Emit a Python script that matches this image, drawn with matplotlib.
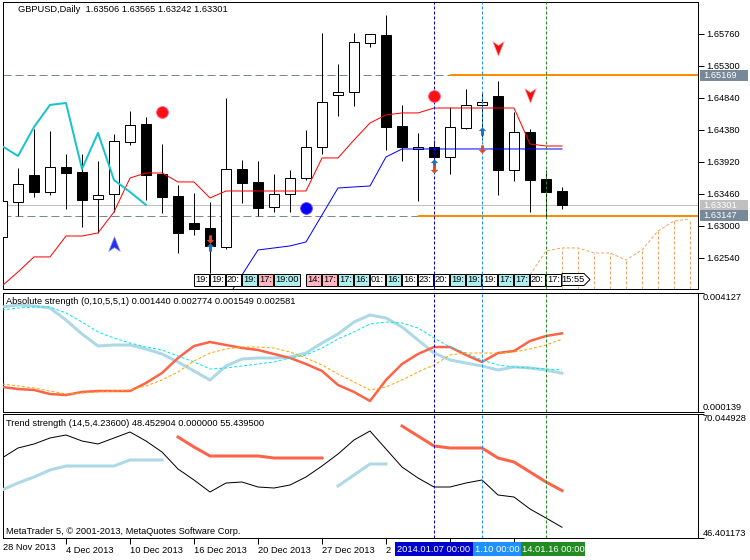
import matplotlib
matplotlib.use("Agg")
import matplotlib.pyplot as plt
import matplotlib.transforms as mtransforms
from matplotlib.patches import Rectangle, Polygon
from matplotlib.path import Path
import numpy as np

plt.rcParams["font.family"] = ["Liberation Sans", "DejaVu Sans"]

nan = np.nan

# ---- GBPUSD daily candles (bar 0 = 28 Nov 2013, bar 35 = 17 Jan 2014) ----
opens = [1.62842, 1.63345, 1.63733, 1.63489, 1.63848, 1.63776, 1.63388, 1.63460, 1.64208, 1.64466,
         1.63748, 1.63431, 1.63043, 1.62971, 1.62698, 1.63820, 1.63633, 1.63273, 1.63460, 1.63690,
         1.64136, 1.64883, 1.64926, 1.65631, 1.65746, 1.64438, 1.64107, 1.64136, 1.63992, 1.64409,
         1.64740, 1.64869, 1.63805, 1.64351, 1.63676, 1.63506]
highs = [1.63446, 1.63834, 1.64395, 1.64366, 1.64035, 1.64035, 1.63935, 1.64323, 1.64653, 1.64567,
         1.64179, 1.63590, 1.63475, 1.63345, 1.64840, 1.63949, 1.63935, 1.63748, 1.63805, 1.64380,
         1.65775, 1.65329, 1.65775, 1.65760, 1.66033, 1.64740, 1.64337, 1.64236, 1.64711, 1.64970,
         1.64926, 1.65085, 1.64639, 1.64395, 1.63805, 1.63565]
lows = [1.62799, 1.63144, 1.63417, 1.63446, 1.63245, 1.62986, 1.62900, 1.63201, 1.64165, 1.63374,
        1.63187, 1.62612, 1.62871, 1.62325, 1.62670, 1.63331, 1.63144, 1.63201, 1.63201, 1.63661,
        1.64035, 1.64581, 1.64725, 1.65573, 1.64093, 1.63935, 1.63360, 1.63949, 1.63748, 1.64395,
        1.64236, 1.63446, 1.63647, 1.63201, 1.63130, 1.63242]
closes = [1.63360, 1.63604, 1.63489, 1.63848, 1.63762, 1.63374, 1.63446, 1.64222, 1.64452, 1.63733,
          1.63417, 1.62900, 1.62957, 1.62713, 1.63820, 1.63618, 1.63259, 1.63460, 1.63690, 1.64136,
          1.64783, 1.64926, 1.65645, 1.65760, 1.64423, 1.64136, 1.64136, 1.63992, 1.64423, 1.64740,
          1.64783, 1.63805, 1.64351, 1.63661, 1.63489, 1.63301]

# channel lines on the price chart
red_line = [1.62138, 1.62339, 1.62555, 1.62555, 1.62856, 1.62856, 1.62900, 1.63201, 1.63690, 1.63762,
            1.63762, 1.63633, 1.63633, 1.63403, 1.63503, 1.63503, 1.63503, 1.63503, 1.63503, 1.63503,
            1.63978, 1.63978, 1.64236, 1.64481, 1.64596, 1.64625, 1.64625, 1.64696, 1.64696, 1.64696,
            1.64696, 1.64696, 1.64696, 1.64179, 1.64150, 1.64150]
blue_line = [nan, nan, nan, nan, nan, nan, nan, nan, nan, nan,
             nan, nan, nan, 1.61505, 1.61936, 1.62296, 1.62655, 1.62684, 1.62713, 1.62770,
             1.63158, 1.63546, 1.63561, 1.63575, 1.63992, 1.64107, 1.64107, 1.64107, 1.64107, 1.64107,
             1.64107, 1.64107, 1.64107, 1.64107, 1.64107, 1.64107]
cyan_line = [1.64150, 1.64006, 1.64423, 1.64740, 1.64768, 1.63820, 1.64337, 1.63661, 1.63489, 1.63302]

# forecast (dashed orange) bars 33..43
proj_bars = [33, 34, 35, 36, 37, 38, 39, 40, 41, 42, 43]
proj_vals = [1.62296, 1.62641, 1.62684, 1.62684, 1.62612, 1.62612, 1.62511, 1.62655, 1.62928, 1.63072, 1.63101]

# horizontal levels
level_hi = 1.65169
level_lo = 1.63147
bid = 1.63301
level_hi_start = 28
level_lo_start = 26

price_ticks = [1.65760, 1.65300, 1.64840, 1.64380, 1.63920, 1.63460, 1.63000, 1.62540]

# signal markers
dot_red_bars, dot_red_prices = [10, 27], [1.64639, 1.64869]
dot_blue_bars, dot_blue_prices = [19], [1.63259]
chev_up_bars, chev_up_prices = [7], [1.62741]
chev_dn_bars, chev_dn_prices = [31, 33], [1.65559, 1.64883]
arr_up_bars, arr_up_prices = [13, 27, 30], [1.62698, 1.63906, 1.64366]
arr_dn_bars, arr_dn_prices = [13, 27, 30], [1.62813, 1.63820, 1.64107]

# time boxes at the foot of the price chart
tb_bars = [12, 13, 14, 15, 16, 17, 19, 20, 21, 22, 23, 24, 25, 26, 27, 28, 29, 30, 31, 32, 33, 34, 35]
tb_text = ["19:", "19:", "20:", "19:", "17:", "19:00", "14:", "17:", "17:", "16:", "01:", "16:",
           "16:", "23:", "20:", "19:", "19:", "19:", "17:", "17:", "20:", "17:", "15:55"]
tb_kind = ["w", "w", "w", "c", "p", "c", "p", "p", "c", "c", "w", "c",
           "w", "w", "w", "c", "c", "w", "c", "c", "w", "w", "w"]

# Absolute strength (0,10,5,5,1)
abs_blue = [0.003658, 0.003725, 0.003691, 0.003624, 0.003222, 0.002753, 0.002351, 0.002384, 0.002384, 0.002250,
            0.002083, 0.001815, 0.001513, 0.001212, 0.001681, 0.001915, 0.001949, 0.001949, 0.001982, 0.002116,
            0.002451, 0.002753, 0.003155, 0.003390, 0.003289, 0.002988, 0.002552, 0.002116, 0.001882, 0.001781,
            0.001681, 0.001547, 0.001647, 0.001614, 0.001547, 0.001440]
abs_red = [0.000977, 0.000910, 0.000877, 0.000742, 0.000709, 0.000810, 0.000843, 0.000843, 0.000843, 0.001111,
           0.001446, 0.001949, 0.002351, 0.002485, 0.002384, 0.002284, 0.002217, 0.002083, 0.001949, 0.001748,
           0.001513, 0.001044, 0.000810, 0.000508, 0.001212, 0.001748, 0.002083, 0.002317, 0.002317, 0.002049,
           0.001815, 0.002116, 0.002183, 0.002519, 0.002686, 0.002774]
abs_cyan = [0.003557, 0.003624, 0.003658, 0.003658, 0.003457, 0.003155, 0.002820, 0.002619, 0.002451, 0.002317,
            0.002217, 0.002016, 0.001815, 0.001580, 0.001614, 0.001681, 0.001748, 0.001815, 0.001949, 0.002049,
            0.002284, 0.002586, 0.002820, 0.003088, 0.003155, 0.003122, 0.002954, 0.002619, 0.002317, 0.002116,
            0.001882, 0.001714, 0.001647, 0.001614, 0.001580, 0.001549]
abs_orange = [0.001078, 0.001011, 0.000944, 0.000843, 0.000742, 0.000776, 0.000810, 0.000843, 0.000877, 0.001011,
              0.001212, 0.001480, 0.001848, 0.002116, 0.002250, 0.002317, 0.002317, 0.002284, 0.002150, 0.001949,
              0.001714, 0.001413, 0.001145, 0.000877, 0.000977, 0.001212, 0.001480, 0.001714, 0.002049, 0.002116,
              0.002116, 0.002116, 0.002150, 0.002250, 0.002384, 0.002581]
abs_range = (0.000139, 0.004127)

# Trend strength (14,5,4.23600)
trend_black = [61.655, 63.562, 64.325, 65.469, 66.041, 64.897, 64.325, 65.469, 66.613, 64.897,
               62.799, 59.558, 57.460, 55.172, 56.888, 57.079, 56.125, 55.935, 56.507, 58.032,
               60.130, 62.418, 65.087, 66.803, 63.371, 59.939, 57.841, 56.125, 56.125, 56.888,
               57.460, 54.600, 54.219, 51.930, 50.214, 48.452904]
trend_blue = [55.553, 56.888, 58.032, 59.367, 60.130, 60.130, 60.130, 60.130, 61.274, 61.274,
              61.274, nan, nan, nan, nan, nan, nan, nan, nan, nan,
              nan, 56.316, 58.414, 60.511, 60.511, nan, nan, nan, nan, nan,
              nan, nan, nan, nan, nan, nan]
trend_red = [nan, nan, nan, nan, nan, nan, nan, nan, nan, nan,
             nan, 65.659, 63.753, 62.036, 62.036, 62.036, 62.036, 61.655, 61.655, 61.655,
             61.655, nan, nan, nan, nan, 67.757, 65.850, 63.943, 63.562, 63.562,
             63.562, 61.655, 60.892, 58.986, 57.079, 55.4395]
trend_range = (46.401173, 70.044928)

# date scale; the last three labels are hidden behind the vertical-line tags
date_bars = [4, 8, 12, 16, 20, 24, 28, 32]
date_labels = ["4 Dec 2013", "10 Dec 2013", "16 Dec 2013", "20 Dec 2013", "27 Dec 2013", "2", "", ""]

vline_bars = [27, 30, 34]
vline_labels = ["2014.01.07 00:00", "1.10 00:00", "14.01.16 00:00"]   # visible part of each tag
vline_colors = ["#0000cd", "#1e90ff", "#228b22"]

# ---- layout (pixel based) ----
W, H = 750, 560
PX = 0.72          # one pixel in points
FS = 6.7


def frame(x0, y0, x1, y1):
    return [x0 / W, 1 - y1 / H, (x1 - x0) / W, (y1 - y0) / H]


fig = plt.figure(figsize=(W / 100, H / 100), dpi=100)
ax0 = fig.add_axes(frame(2.5, 2, 697.5, 289))
ax1 = fig.add_axes(frame(2.5, 293, 697.5, 412))
ax2 = fig.add_axes(frame(2.5, 414, 697.5, 538))

x = np.arange(len(closes))
xlim = (0.5 / 16, 695.5 / 16)
for ax in (ax0, ax1, ax2):
    ax.set_xlim(*xlim)
    for sp in ax.spines.values():
        sp.set_linewidth(PX)
        sp.set_color("black")
    ax.yaxis.tick_right()
    ax.tick_params(axis="y", direction="out", length=4, width=PX, pad=2, labelsize=FS)
    for b, c in zip(vline_bars, vline_colors):
        ax.axvline(b, color=c, lw=PX, dashes=(3, 2), zorder=6)
ax0.set_xticks([])
ax1.set_xticks([])

# ---- price chart ----
ax0.set_ylim(1.62094, 1.66220)
ax0.axhline(bid, color="#c0c0c0", lw=PX, zorder=1)
ax0.axhline(level_hi, color="#778899", lw=PX, dashes=(8, 4), zorder=1)
ax0.axhline(level_lo, color="#778899", lw=PX, dashes=(8, 4), zorder=1)
ax0.hlines(level_hi, level_hi_start, xlim[1], color="#ff8c00", lw=2 * PX, zorder=2)
ax0.hlines(level_lo, level_lo_start, xlim[1], color="#ff8c00", lw=2 * PX, zorder=2)

o = np.array(opens)
c = np.array(closes)
ax0.vlines(x, lows, highs, color="black", lw=PX, zorder=3)
body_col = ["white" if cc >= oo else "black" for oo, cc in zip(o, c)]
ax0.bar(x, np.abs(c - o), width=0.65, bottom=np.minimum(o, c), color=body_col,
        edgecolor="black", linewidth=PX, zorder=4)

ax0.plot(x, red_line, color="#ff0000", lw=PX, zorder=5)
ax0.plot(x, blue_line, color="#0000ff", lw=PX, zorder=5)
ax0.plot(x[:len(cyan_line)], cyan_line, color="#18c4cc", lw=2 * PX, zorder=5)

ybot = ax0.get_ylim()[0]
ax0.plot(proj_bars, proj_vals, color="#f4a460", lw=PX, dashes=(3, 2), zorder=2)
ax0.vlines(proj_bars[1:], ybot, proj_vals[1:], color="#f4a460", lw=PX,
           linestyles=(0, (3, 2)), zorder=2)

chev_up = Path([(0, 1), (0.75, -0.9), (0, -0.4), (-0.75, -0.9), (0, 1)], closed=True)
chev_dn = Path([(0, -1), (0.75, 0.9), (0, 0.4), (-0.75, 0.9), (0, -1)], closed=True)
arr_up = Path([(0, 1), (0.9, 0.1), (0.35, 0.1), (0.35, -1), (-0.35, -1), (-0.35, 0.1),
               (-0.9, 0.1), (0, 1)], closed=True)
arr_dn = Path([(0, -1), (0.9, -0.1), (0.35, -0.1), (0.35, 1), (-0.35, 1), (-0.35, -0.1),
               (-0.9, -0.1), (0, -1)], closed=True)

ax0.plot(dot_red_bars, dot_red_prices, "o", color="#ff1010", ms=8.5, mec="#ff60a0", mew=0.6, zorder=8)
ax0.plot(dot_blue_bars, dot_blue_prices, "o", color="#0000ff", ms=8.5, mec="#8040ff", mew=0.6, zorder=8)
ax0.plot(chev_up_bars, chev_up_prices, marker=chev_up, ls="none", color="#2830f0", ms=11,
         mec="#8090ff", mew=0.5, zorder=8)
ax0.plot(chev_dn_bars, chev_dn_prices, marker=chev_dn, ls="none", color="#f01010", ms=11,
         mec="#ffa0a0", mew=0.5, zorder=8)
ax0.plot(arr_up_bars, arr_up_prices, marker=arr_up, ls="none", color="#2070c0", ms=6, mew=0, zorder=8)
ax0.plot(arr_dn_bars, arr_dn_prices, marker=arr_dn, ls="none", color="#e04828", ms=6, mew=0, zorder=8)

ax0.set_yticks(price_ticks)
ax0.set_yticklabels([f"{v:.5f}" for v in price_ticks])

# highlighted price tags on the right scale
ppx = (ax0.get_ylim()[1] - ax0.get_ylim()[0]) / 287
tag_tr = mtransforms.blended_transform_factory(fig.transFigure, ax0.transData)
for val, bg in ((level_hi, "#778899"), (bid, "#c0c0c0"), (level_lo, "#778899")):
    ax0.add_patch(Rectangle((699.5 / W, val - 5.5 * ppx), 48 / W, 11 * ppx, transform=tag_tr,
                            facecolor=bg, edgecolor="none", clip_on=False, zorder=10))
    ax0.text(703 / W, val, f"{val:.5f}", transform=tag_tr, ha="left", va="center",
             fontsize=FS, color="white", clip_on=False, zorder=11)

# time boxes
box_fc = {"w": "white", "c": "#afeeee", "p": "#ffb6c1"}
tb_tr = mtransforms.blended_transform_factory(ax0.transData, ax0.transAxes)
by0, bh = 3.5 / 287, 12 / 287
for b, t, k in zip(tb_bars, tb_text, tb_kind):
    if t == "15:55":
        w = 22 / 16
        pts = [(b, by0), (b + w, by0), (b + w + 6 / 16, by0 + bh / 2), (b + w, by0 + bh), (b, by0 + bh)]
        ax0.add_patch(Polygon(pts, closed=True, transform=tb_tr, facecolor=box_fc[k],
                              edgecolor="black", lw=PX, zorder=5.5))
    else:
        w = 26 / 16 if len(t) > 3 else 14.5 / 16
        ax0.add_patch(Rectangle((b, by0), w, bh, transform=tb_tr, facecolor=box_fc[k],
                                edgecolor="black", lw=PX, zorder=5.5))
    ax0.text(b + w / 2, by0 + bh / 2, t, transform=tb_tr, ha="center", va="center",
             fontsize=FS, zorder=5.6)

# ---- Absolute strength ----
ax1.set_ylim(*abs_range)
ax1.plot(x, abs_blue, color="#add8e6", lw=3 * PX, zorder=3)
ax1.plot(x, abs_red, color="#ff6347", lw=2.5 * PX, zorder=3)
ax1.plot(x, abs_cyan, color="#00e8f0", lw=PX, dashes=(3, 2), zorder=4)
ax1.plot(x, abs_orange, color="#ffa500", lw=PX, dashes=(3, 2), zorder=4)

# ---- Trend strength ----
ax2.set_ylim(*trend_range)
ax2.plot(x, trend_blue, color="#add8e6", lw=3 * PX, zorder=3)
ax2.plot(x, trend_red, color="#ff6347", lw=3 * PX, zorder=3)
ax2.plot(x, trend_black, color="black", lw=PX, zorder=4)

for ax, rng in ((ax1, abs_range), (ax2, trend_range)):
    ax.set_yticks(list(rng))
    ax.set_yticklabels([])
    ytr = ax.get_yaxis_transform()
    ax.text(1 + 5.5 / 695, rng[1], f"{rng[1]:.6f}", transform=ytr, ha="left", va="top",
            fontsize=FS, clip_on=False)
    ax.text(1 + 5.5 / 695, rng[0], f"{rng[0]:.6f}", transform=ytr, ha="left", va="bottom",
            fontsize=FS, clip_on=False)

ax2.set_xticks(date_bars)
ax2.set_xticklabels(date_labels, ha="left", fontsize=FS)
ax2.tick_params(axis="x", direction="out", length=4, width=PX, pad=1.5)

# tags of the vertical lines: each centred on its line, later tags tucked under earlier ones
tag_w = 78
prev_right = None
for b, lab, col in zip(vline_bars, vline_labels, vline_colors):
    cx = 2 + 16 * b
    left, right = cx - tag_w / 2, cx + tag_w / 2
    if prev_right is not None:
        left = max(left, prev_right)
    fig.patches.append(Rectangle((left / W, 1 - 556 / H), (right - left) / W, 14 / H,
                                 transform=fig.transFigure, facecolor=col, edgecolor="none"))
    fig.text((left + right) / 2 / W, 1 - 549 / H, lab, fontsize=FS, color="white",
             ha="center", va="center")
    prev_right = right


# ---- texts ----
def ftext(px_x, px_y, s, **kw):
    fig.text(px_x / W, 1 - px_y / H, s, fontsize=FS, ha="left", va="center", **kw)


ftext(18, 10, "GBPUSD,Daily  1.63506 1.63565 1.63242 1.63301")
ftext(6, 302, "Absolute strength (0,10,5,5,1) 0.001440 0.002774 0.001549 0.002581")
ftext(6, 424, "Trend strength (14,5,4.23600) 48.452904 0.000000 55.439500")
ftext(6, 531, "MetaTrader 5, © 2001-2013, MetaQuotes Software Corp.")
ftext(3, 548, "28 Nov 2013")

fig.savefig("out.png", dpi=100, facecolor="white")
